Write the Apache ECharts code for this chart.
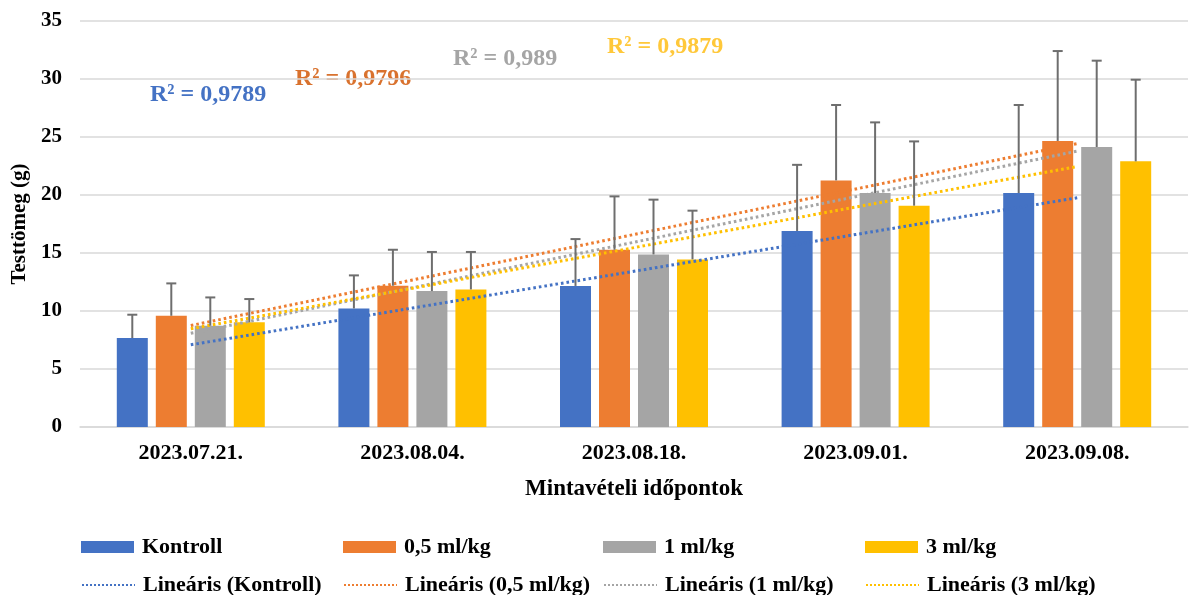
<!DOCTYPE html>
<html>
<head>
<meta charset="utf-8">
<script src="https://cdn.jsdelivr.net/npm/echarts@6/dist/echarts.min.js"></script>
<style>
html,body{margin:0;padding:0;background:#fff;}
#chart{width:1189px;height:595px;}
</style>
</head>
<body>
<div id="chart"></div>
<script>
// ---- data ----
const categories = ['2023.07.21.', '2023.08.04.', '2023.08.18.', '2023.09.01.', '2023.09.08.'];
const seriesNames = ['Kontroll', '0,5 ml/kg', '1 ml/kg', '3 ml/kg'];
const trendNames = ['Lineáris (Kontroll)', 'Lineáris (0,5 ml/kg)', 'Lineáris (1 ml/kg)', 'Lineáris (3 ml/kg)'];
const kontroll   = [7.67, 10.22, 12.16, 16.90, 20.17];
const ml05       = [9.59, 12.18, 15.28, 21.26, 24.66];
const ml1        = [8.73, 11.72, 14.88, 20.17, 24.14];
const ml3        = [9.02, 11.86, 14.45, 19.08, 22.90];
const kontrollSD = [2.01, 2.85, 4.04, 5.70, 7.59];
const ml05SD     = [2.79, 3.10, 4.60, 6.50, 7.75];
const ml1SD      = [2.44, 3.37, 4.72, 6.09, 7.44];
const ml3SD      = [2.01, 3.23, 4.20, 5.54, 7.04];
const rSquared   = ['R² = 0,9789', 'R² = 0,9796', 'R² = 0,989', 'R² = 0,9879'];
const yTicks     = [0, 5, 10, 15, 20, 25, 30, 35];

// ---- styling ----
const colors = ['#4472C4', '#ED7D31', '#A5A5A5', '#FFC000'];
const rColors = ['#4472C4', '#D9722E', '#A5A5A5', '#FFC83A'];
const FONT = '"Liberation Serif", "Times New Roman", serif';
const BAR_W = 31, BAR_GAP = 8;
const means = [kontroll, ml05, ml1, ml3];
const sds = [kontrollSD, ml05SD, ml1SD, ml3SD];

// Linear trendline (least squares over category index), like Excel's "Lineáris" trendline
function linearTrend(vals) {
  const n = vals.length;
  const xs = vals.map((_, i) => i + 1);
  const mx = xs.reduce((a, b) => a + b, 0) / n;
  const my = vals.reduce((a, b) => a + b, 0) / n;
  let sxy = 0, sxx = 0;
  for (let i = 0; i < n; i++) { sxy += (xs[i] - mx) * (vals[i] - my); sxx += (xs[i] - mx) ** 2; }
  const b = sxy / sxx, a = my - b * mx;
  return xs.map(x => +(a + b * x).toFixed(3));
}

const chart = echarts.init(document.getElementById('chart'), null, {renderer: 'canvas'});

const series = [];
means.forEach((vals, k) => {
  series.push({
    name: seriesNames[k], type: 'bar', data: vals,
    barWidth: BAR_W, barGap: (BAR_GAP / BAR_W * 100).toFixed(1) + '%',
    itemStyle: {color: colors[k]}, z: 2
  });
});
means.forEach((vals, k) => {
  series.push({
    name: 'err' + k, type: 'custom', z: 4,
    data: vals.map((v, i) => [i, v + sds[k][i], v]),
    encode: {x: 0, y: [1, 2]},
    renderItem: function (params, api) {
      const top = api.coord([api.value(0), api.value(1)]);
      const base = api.coord([api.value(0), api.value(2)]);
      const x = top[0] + (k - 1.5) * (BAR_W + BAR_GAP);
      const st = {stroke: '#6E6E6E', lineWidth: 2};
      return {type: 'group', children: [
        {type: 'line', shape: {x1: x, y1: base[1], x2: x, y2: top[1]}, style: st},
        {type: 'line', shape: {x1: x - 5, y1: top[1], x2: x + 5, y2: top[1]}, style: st}
      ]};
    }
  });
});
means.forEach((vals, k) => {
  series.push({
    name: trendNames[k], type: 'line', data: linearTrend(vals),
    symbol: 'none', showSymbol: false, z: 3, silent: true,
    lineStyle: {color: colors[k], width: 3, type: [2.6, 3]},
    itemStyle: {color: colors[k]}
  });
});

const legendCols = [76, 338, 598, 860];
const legText = {fontFamily: FONT, fontWeight: 'bold', fontSize: 22, color: '#000', padding: [0, 0, 0, 3]};
const legends = [];
seriesNames.forEach((n, k) => legends.push({
  data: [{name: n, icon: 'rect'}], left: legendCols[k], top: 531, itemWidth: 53, itemHeight: 12,
  textStyle: legText, selectedMode: false
}));
trendNames.forEach((n, k) => legends.push({
  data: [n], left: legendCols[k], top: 569, itemWidth: 53, itemHeight: 12,
  textStyle: legText, selectedMode: false,
  itemStyle: {opacity: 0},
  lineStyle: {width: 2, type: [2, 2], opacity: 1}
}));

const rPos = [[150, 83], [295, 67], [453, 47], [607, 35]];
const graphics = rSquared.map((t, k) => ({
  type: 'text', left: rPos[k][0], top: rPos[k][1], silent: true,
  style: {text: t, fill: rColors[k], font: 'bold 24px ' + FONT}
}));

chart.setOption({
  animation: false,
  backgroundColor: '#fff',
  grid: {left: 80, right: 1, top: 21, bottom: 168, containLabel: false},
  legend: legends,
  graphic: graphics,
  xAxis: {
    type: 'category', data: categories,
    name: 'Mintavételi időpontok', nameLocation: 'middle', nameGap: 51,
    nameTextStyle: {fontFamily: FONT, fontWeight: 'bold', fontSize: 23, color: '#000'},
    axisLine: {lineStyle: {color: '#D9D9D9', width: 1.5}},
    axisTick: {show: false},
    axisLabel: {fontFamily: FONT, fontWeight: 'bold', fontSize: 22, color: '#000', margin: 15}
  },
  yAxis: {
    type: 'value', min: yTicks[0], max: yTicks[yTicks.length - 1], interval: 5,
    name: 'Testtömeg (g)', nameLocation: 'middle', nameGap: 47,
    nameTextStyle: {fontFamily: FONT, fontWeight: 'bold', fontSize: 21, color: '#000'},
    axisLine: {show: false}, axisTick: {show: false},
    axisLabel: {fontFamily: FONT, fontWeight: 'bold', fontSize: 21, color: '#000', margin: 18},
    splitLine: {lineStyle: {color: '#D9D9D9', width: 1.5}}
  },
  series: series
});
</script>
</body>
</html>
